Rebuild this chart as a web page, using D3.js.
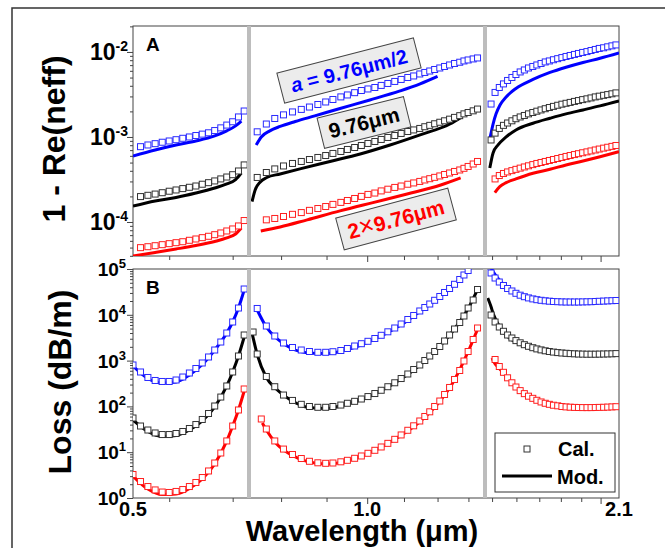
<!DOCTYPE html>
<html>
<head>
<meta charset="utf-8">
<script src="https://cdn.jsdelivr.net/npm/d3@7"></script>
<style>
  body { margin: 0; background: #fff; }
  svg { display: block; font-family: "Liberation Sans", Arial, sans-serif; font-weight: bold; }
</style>
</head>
<body>
<svg id="chart" width="665" height="548"></svg>
<script>
// wavelengths (um) of the calculated points, one grid per segment of the broken axis
const gridA = [0.50, 0.51, 0.52, 0.53, 0.54, 0.55, 0.56, 0.57, 0.58, 0.59, 0.60, 0.61, 0.62, 0.63, 0.64, 0.65, 0.66, 0.67];
const gridB = [0.744, 0.752, 0.760, 0.770, 0.787, 0.805, 0.824, 0.843, 0.861, 0.880, 0.898, 0.915, 0.934, 0.950, 0.968, 0.985, 1.002, 1.020, 1.037, 1.055, 1.074, 1.092, 1.111, 1.128, 1.146, 1.161, 1.176, 1.191, 1.207, 1.222, 1.238, 1.254, 1.271, 1.285, 1.299, 1.316, 1.331];
const gridC = [1.496, 1.512, 1.529, 1.546, 1.563, 1.581, 1.598, 1.616, 1.634, 1.652, 1.671, 1.689, 1.708, 1.727, 1.746, 1.765, 1.785, 1.805, 1.825, 1.845, 1.866, 1.886, 1.907, 1.929, 1.950, 1.972, 1.993, 2.016, 2.038, 2.061, 2.083];

// 1 - Re(neff), calculated (squares)
const neffBlueA = [null, 7.69e-4, 8.05e-4, 8.34e-4, 8.67e-4, 8.97e-4, 9.29e-4, 9.65e-4, 1.00e-3, 1.04e-3, 1.08e-3, 1.12e-3, 1.19e-3, 1.28e-3, 1.38e-3, 1.51e-3, 1.72e-3, 2.02e-3];
const neffBlackA = [null, 1.99e-4, 2.06e-4, 2.13e-4, 2.21e-4, 2.30e-4, 2.38e-4, 2.47e-4, 2.56e-4, 2.65e-4, 2.78e-4, 2.90e-4, 3.04e-4, 3.21e-4, 3.38e-4, 3.60e-4, 3.98e-4, 4.69e-4];
const neffRedA = [null, 4.99e-5, 5.12e-5, 5.26e-5, 5.41e-5, 5.56e-5, 5.71e-5, 5.86e-5, 6.09e-5, 6.31e-5, 6.54e-5, 6.79e-5, 7.09e-5, 7.43e-5, 7.84e-5, 8.28e-5, 8.98e-5, 1.04e-4];
const neffBlueB = [null, 1.15e-3, null, 1.42e-3, 1.65e-3, 1.82e-3, 1.97e-3, 2.11e-3, 2.25e-3, 2.41e-3, 2.58e-3, 2.76e-3, 2.96e-3, 3.12e-3, 3.32e-3, 3.52e-3, 3.67e-3, 3.82e-3, 4.04e-3, 4.26e-3, 4.50e-3, 4.75e-3, 5.01e-3, 5.22e-3, 5.51e-3, 5.74e-3, 5.97e-3, 6.22e-3, 6.48e-3, 6.75e-3, 7.03e-3, 7.32e-3, 7.57e-3, 7.84e-3, 8.05e-3, 8.28e-3, 8.50e-3];
const neffBlackB = [null, 3.34e-4, null, 3.82e-4, 4.21e-4, 4.56e-4, 4.88e-4, 5.15e-4, 5.43e-4, 5.74e-4, 6.05e-4, 6.40e-4, 6.75e-4, 7.13e-4, 7.52e-4, 7.94e-4, 8.39e-4, 8.85e-4, 9.35e-4, 9.87e-4, 1.04e-3, 1.10e-3, 1.16e-3, 1.21e-3, 1.26e-3, 1.32e-3, 1.37e-3, 1.43e-3, 1.49e-3, 1.55e-3, 1.62e-3, 1.70e-3, 1.78e-3, 1.87e-3, 1.94e-3, 2.03e-3, 2.13e-3];
const neffRedB = [null, null, null, 1.06e-4, 1.10e-4, 1.16e-4, 1.23e-4, 1.29e-4, 1.37e-4, 1.44e-4, 1.52e-4, 1.61e-4, 1.70e-4, 1.79e-4, 1.89e-4, 2.00e-4, 2.11e-4, 2.19e-4, 2.32e-4, 2.43e-4, 2.55e-4, 2.65e-4, 2.78e-4, 2.88e-4, 3.00e-4, 3.12e-4, 3.23e-4, 3.35e-4, 3.48e-4, 3.62e-4, 3.77e-4, 3.93e-4, 4.09e-4, 4.28e-4, 4.50e-4, 4.81e-4, 5.15e-4];
const neffBlueC = [2.44e-3, 3.34e-3, 3.82e-3, 4.21e-3, 4.62e-3, 5.01e-3, 5.43e-3, 5.82e-3, 6.14e-3, 6.48e-3, 6.75e-3, 7.03e-3, 7.32e-3, 7.63e-3, 7.84e-3, 8.10e-3, 8.34e-3, 8.59e-3, 8.85e-3, 9.09e-3, 9.35e-3, 9.60e-3, 9.87e-3, 1.01e-2, 1.04e-2, 1.07e-2, 1.10e-2, 1.12e-2, 1.15e-2, 1.18e-2, 1.21e-2];
const neffBlackC = [9.22e-4, 1.11e-3, 1.26e-3, 1.37e-3, 1.46e-3, 1.55e-3, 1.64e-3, 1.72e-3, 1.79e-3, 1.87e-3, 1.94e-3, 2.01e-3, 2.08e-3, 2.15e-3, 2.22e-3, 2.29e-3, 2.36e-3, 2.43e-3, 2.49e-3, 2.55e-3, 2.62e-3, 2.68e-3, 2.75e-3, 2.81e-3, 2.88e-3, 2.96e-3, 3.02e-3, 3.09e-3, 3.15e-3, 3.22e-3, 3.30e-3];
const neffRedC = [null, 3.21e-4, 3.52e-4, 3.72e-4, 3.88e-4, 4.02e-4, 4.16e-4, 4.30e-4, 4.44e-4, 4.58e-4, 4.73e-4, 4.88e-4, 5.01e-4, 5.15e-4, 5.29e-4, 5.43e-4, 5.58e-4, 5.74e-4, 5.90e-4, 6.05e-4, 6.21e-4, 6.36e-4, 6.52e-4, 6.68e-4, 6.85e-4, 7.03e-4, 7.21e-4, 7.39e-4, 7.57e-4, 7.75e-4, 7.94e-4];

// 1 - Re(neff), model (lines) as [wavelength, value]
const neffModBlueA = [[0.50, 5.97e-4], [0.53, 7.03e-4], [0.56, 8.05e-4], [0.59, 8.97e-4], [0.62, 1.03e-3], [0.64, 1.18e-3], [0.655, 1.35e-3], [0.665, 1.54e-3]];
const neffModBlackA = [[0.50, 1.54e-4], [0.53, 1.77e-4], [0.56, 1.94e-4], [0.59, 2.19e-4], [0.62, 2.51e-4], [0.64, 2.80e-4], [0.655, 3.16e-4], [0.665, 3.77e-4]];
const neffModRedA = [[0.50, 3.98e-5], [0.53, 4.38e-5], [0.56, 4.81e-5], [0.59, 5.29e-5], [0.62, 5.90e-5], [0.64, 6.49e-5], [0.655, 7.23e-5], [0.665, 8.50e-5]];
const neffModBlueB = [[0.75, 8.05e-4], [0.76, 1.0e-3], [0.777, 1.18e-3], [0.798, 1.33e-3], [0.83, 1.52e-3], [0.873, 1.77e-3], [0.932, 2.16e-3], [1.007, 2.72e-3], [1.089, 3.48e-3], [1.147, 4.21e-3], [1.20, 5.15e-3]];
const neffModBlackB = [[0.742, 1.74e-4], [0.748, 2.38e-4], [0.758, 2.96e-4], [0.771, 3.34e-4], [0.798, 3.67e-4], [0.840, 4.21e-4], [0.908, 5.15e-4], [0.982, 6.31e-4], [1.061, 8.05e-4], [1.147, 1.06e-3], [1.239, 1.42e-3], [1.278, 1.72e-3]];
const neffModRedB = [[0.759, 7.84e-5], [0.798, 8.73e-5], [0.856, 1.06e-4], [0.932, 1.35e-4], [1.015, 1.69e-4], [1.109, 2.13e-4], [1.210, 2.72e-4], [1.274, 3.30e-4]];
const neffModBlueC = [[1.492, 9.73e-4], [1.504, 1.42e-3], [1.516, 1.87e-3], [1.532, 2.38e-3], [1.557, 2.96e-3], [1.598, 3.72e-3], [1.672, 4.75e-3], [1.749, 5.74e-3], [1.825, 6.61e-3], [1.909, 7.52e-3], [1.997, 8.43e-3], [2.1, 9.73e-3]];
const neffModBlackC = [[1.491, 4.31e-4], [1.504, 6.49e-4], [1.524, 8.05e-4], [1.557, 1.0e-3], [1.598, 1.21e-3], [1.672, 1.45e-3], [1.749, 1.66e-3], [1.825, 1.87e-3], [1.909, 2.08e-3], [1.997, 2.32e-3], [2.1, 2.65e-3]];
const neffModRedC = [[1.511, 2.21e-4], [1.531, 2.60e-4], [1.557, 2.90e-4], [1.598, 3.21e-4], [1.672, 3.74e-4], [1.749, 4.17e-4], [1.825, 4.69e-4], [1.909, 5.22e-4], [1.997, 5.86e-4], [2.1, 6.71e-4]];

// Loss (dB/m), calculated (squares)
const lossBlueA = [802, 564, 428, 368, 350, 350, 377, 438, 536, 672, 887, 1199, 1703, 2545, 4005, 6965, 14070, 36570];
const lossBlackA = [55.8, 37.3, 30.5, 26.3, 24.3, 24.3, 25.6, 28.3, 32.9, 40.2, 51.8, 70.0, 102, 160, 279, 564, 1260, 3622];
const lossRedA = [3.26, 2.29, 1.78, 1.50, 1.35, 1.32, 1.39, 1.53, 1.78, 2.18, 2.80, 3.89, 5.81, 9.61, 17.6, 37.3, 83.5, 240];
const lossBlueB = [null, 13740, null, 5690, 3443, 2423, 1932, 1703, 1580, 1518, 1518, 1563, 1662, 1837, 2083, 2338, 2638, 3038, 3568, 4253, 5150, 6297, 7894, 9660, 12110, 14430, 17210, 20730, 25100, 30700, 37520, 46350, 59000, 73990, 92740, 122300, 165300];
const lossBlackB = [4210, 1393, null, 450, 269, 177, 135, 111, 99.5, 95.6, 95.6, 99.5, 107, 117, 129, 145, 164, 191, 225, 269, 328, 406, 510, 639, 802, 1005, 1260, 1580, 2032, 2680, 3622, 4898, 6787, 9412, 14070, 21040, 35670];
const lossRedB = [null, null, 53.1, 32.1, 17.6, 11.7, 8.91, 7.28, 6.33, 5.87, 5.72, 5.81, 6.17, 6.65, 7.36, 8.27, 9.46, 11.0, 13.0, 15.6, 19.1, 23.8, 30.1, 37.7, 48.0, 60.2, 76.2, 99.5, 131, 182, 259, 387, 608, 980, 1580, 2890, 5150];
const lossBlueC = [81840, 63590, 52000, 43620, 37520, 33110, 29470, 26790, 24840, 23380, 22240, 21370, 20730, 20220, 19830, 19520, 19320, 19130, 19030, 19030, 19030, 19030, 19130, 19230, 19320, 19520, 19720, 19920, 20120, 20330, 20530];
const lossBlackC = [9900, 6965, 5416, 4363, 3622, 3115, 2733, 2447, 2225, 2053, 1912, 1800, 1712, 1637, 1580, 1534, 1496, 1466, 1444, 1422, 1407, 1393, 1386, 1379, 1379, 1379, 1386, 1393, 1400, 1407, 1422];
const lossRedC = [null, 1057, 743, 555, 421, 328, 265, 221, 190, 167, 150, 136, 125, 117, 111, 106, 103, 99.5, 97.5, 96.1, 95.1, 94.6, 94.2, 94.2, 94.2, 94.6, 95.1, 95.6, 96.5, 97.5, 98.5];

// Loss (dB/m), model (lines)
const lossModBlueA = [[0.50, 762], [0.52, 406], [0.54, 324], [0.56, 341], [0.58, 485], [0.60, 822], [0.62, 1703], [0.64, 4005], [0.65, 6965], [0.66, 14070], [0.67, 34770]];
const lossModBlackA = [[0.50, 50.5], [0.52, 28.3], [0.54, 22.0], [0.56, 23.2], [0.58, 30.5], [0.60, 48.0], [0.62, 97.0], [0.64, 279], [0.65, 564], [0.66, 1260], [0.67, 3273]];
const lossModRedA = [[0.50, 3.02], [0.52, 1.57], [0.54, 1.19], [0.56, 1.22], [0.58, 1.61], [0.60, 2.60], [0.62, 5.53], [0.64, 17.6], [0.65, 37.3], [0.66, 83.5], [0.67, 217]];
const lossModBlueB = [[0.752, 12730], [0.77, 5416], [0.79, 3115], [0.82, 1883], [0.86, 1466], [0.90, 1429], [0.95, 1747], [1.00, 2485], [1.05, 3908], [1.10, 6620], [1.15, 12410], [1.20, 22700], [1.25, 43620], [1.30, 92740], [1.32, 128600]];
const lossModBlackB = [[0.742, 4005], [0.752, 1359], [0.77, 428], [0.79, 240], [0.82, 138], [0.86, 94.6], [0.90, 90.0], [0.95, 113], [1.00, 156], [1.05, 252], [1.10, 438], [1.15, 843], [1.20, 1837], [1.25, 4540], [1.30, 14070], [1.33, 34770]];
const lossModRedB = [[0.762, 43.4], [0.77, 30.5], [0.79, 15.5], [0.82, 8.91], [0.86, 6.11], [0.90, 5.53], [0.95, 6.42], [1.00, 9.14], [1.05, 14.7], [1.10, 25.6], [1.15, 49.2], [1.20, 113], [1.25, 341], [1.30, 1622], [1.33, 4660]];
const lossModBlueC = [[1.485, 142200], [1.505, 85910], [1.535, 53330], [1.565, 37520], [1.605, 28460], [1.655, 23030], [1.705, 20530], [1.756, 19230], [1.806, 18750], [1.856, 18570], [1.907, 18660], [1.957, 18930], [2.008, 19410], [2.059, 19920], [2.099, 20220]];
const lossModBlackC = [[1.483, 23280], [1.495, 15570], [1.505, 10400], [1.535, 5024], [1.565, 3273], [1.605, 2423], [1.655, 1883], [1.705, 1596], [1.756, 1444], [1.806, 1359], [1.856, 1325], [1.907, 1312], [1.957, 1318], [2.008, 1339], [2.059, 1366], [2.099, 1393]];
const lossModRedC = [[1.500, 1140], [1.505, 980], [1.535, 623], [1.565, 406], [1.605, 246], [1.655, 156], [1.705, 122], [1.756, 105], [1.806, 96.1], [1.856, 92.3], [1.907, 91.0], [1.957, 91.0], [2.008, 91.8], [2.059, 93.2], [2.099, 94.6]];

// axis ticks
const xTicksA = [0.55, 0.65];
const xTicksB = [0.8, 0.9, 1.0, 1.1, 1.2, 1.3];
const xTicksC = [1.5, 1.6, 1.7, 1.8, 1.9, 2.0];
const xLongTicks = [1.0, 2.0];
const xLabels = [["0.5", 0, 0.5], ["1.0", 1, 1.0], ["2.1", 2, 2.1]];
const neffExponents = [-4, -3, -2];
const lossExponents = [0, 1, 2, 3, 4, 5];

const seriesColors = ["#0000ff", "#000000", "#ff0000"];
const squareColors = ["#2a2aff", "#333333", "#ff2020"];

const svg = d3.select("#chart");

// layout of the broken x axis: three segments, two rows
const segRange = [[133, 247], [251, 483], [487, 619]];
const segDomain = [[0.5, 0.675], [0.74, 1.35], [1.48, 2.1]];
const rows = [{top: 26, bottom: 256}, {top: 269, bottom: 498}];

let xs = segDomain.map((d, i) => d3.scaleLog().domain(d).range(segRange[i]));
let yNeff = d3.scaleLog().domain([3.98e-5, 2.02e-2]).range([256, 26]);
let yLoss = d3.scaleLog().domain([1, 1e5]).range([498, 269]);
let ys = [yNeff, yLoss];

let panels = [
  {row: 0, seg: 0, grid: gridA, cal: [neffBlueA, neffBlackA, neffRedA], mod: [neffModBlueA, neffModBlackA, neffModRedA]},
  {row: 0, seg: 1, grid: gridB, cal: [neffBlueB, neffBlackB, neffRedB], mod: [neffModBlueB, neffModBlackB, neffModRedB]},
  {row: 0, seg: 2, grid: gridC, cal: [neffBlueC, neffBlackC, neffRedC], mod: [neffModBlueC, neffModBlackC, neffModRedC]},
  {row: 1, seg: 0, grid: gridA, cal: [lossBlueA, lossBlackA, lossRedA], mod: [lossModBlueA, lossModBlackA, lossModRedA]},
  {row: 1, seg: 1, grid: gridB, cal: [lossBlueB, lossBlackB, lossRedB], mod: [lossModBlueB, lossModBlackB, lossModRedB]},
  {row: 1, seg: 2, grid: gridC, cal: [lossBlueC, lossBlackC, lossRedC], mod: [lossModBlueC, lossModBlackC, lossModRedC]}
];

// outer figure border (left and top only, the figure is cropped)
svg.append("path").attr("d", "M12,548V8H665").attr("fill", "none").attr("stroke", "#333").attr("stroke-width", 1.5);

let defs = svg.append("defs");
panels.forEach(p => {
  let r = rows[p.row], s = segRange[p.seg];
  defs.append("clipPath").attr("id", "clip" + p.row + p.seg)
    .append("rect").attr("x", s[0]).attr("y", r.top).attr("width", s[1] - s[0]).attr("height", r.bottom - r.top);
});

// frames
rows.forEach(r => {
  svg.append("rect").attr("x", 133).attr("y", r.top).attr("width", 619 - 133).attr("height", r.bottom - r.top)
    .attr("fill", "none").attr("stroke", "#444").attr("stroke-width", 1);
});

// model lines then calculated squares
panels.forEach(p => {
  let x = xs[p.seg], y = ys[p.row];
  let g = svg.append("g").attr("clip-path", "url(#clip" + p.row + p.seg + ")");
  let line = d3.line().x(d => x(d[0])).y(d => y(d[1])).curve(d3.curveMonotoneX);
  p.mod.forEach((m, i) => {
    g.append("path").attr("d", line(m)).attr("fill", "none")
      .attr("stroke", seriesColors[i]).attr("stroke-width", 3);
  });
  p.cal.forEach((vals, i) => {
    let pts = p.grid.map((w, k) => [w, vals[k]]).filter(d => d[1] != null);
    g.selectAll(null).data(pts).enter().append("rect")
      .attr("x", d => x(d[0]) - 3).attr("y", d => y(d[1]) - 3)
      .attr("width", 6).attr("height", 6)
      .attr("fill", "#fff").attr("stroke", squareColors[i]).attr("stroke-width", 1);
  });
});

// grey bars marking the axis breaks
rows.forEach(r => {
  [[segRange[0][1], segRange[1][0]], [segRange[1][1], segRange[2][0]]].forEach(b => {
    svg.append("rect").attr("x", b[0]).attr("y", r.top).attr("width", b[1] - b[0]).attr("height", r.bottom - r.top)
      .attr("fill", "#bdbdbd");
  });
});

// x ticks on both rows
let xTickSets = [xTicksA, xTicksB, xTicksC];
rows.forEach(r => {
  xs.forEach((x, si) => {
    let short = xTickSets[si].filter(t => xLongTicks.indexOf(t) < 0);
    let long = xTickSets[si].filter(t => xLongTicks.indexOf(t) >= 0);
    [[short, 4], [long, 6]].forEach(([vals, len]) => {
      let ax = svg.append("g").attr("transform", "translate(0," + r.bottom + ")")
        .call(d3.axisBottom(x).tickValues(vals).tickSize(len).tickFormat(""));
      ax.select(".domain").remove();
      ax.selectAll("line").attr("stroke", "#444");
    });
  });
});

// y ticks (major + log minors)
function yTicks(scale, exps) {
  let majors = exps.map(e => Math.pow(10, e));
  let minors = [];
  let lo = d3.min(exps) - 1, hi = d3.max(exps);
  for (let e = lo; e <= hi; e++) {
    for (let k = 2; k <= 9; k++) {
      let v = k * Math.pow(10, e);
      if (v >= scale.domain()[0] && v <= scale.domain()[1]) minors.push(v);
    }
  }
  [[majors, 6], [minors, 3]].forEach(([vals, len]) => {
    let ax = svg.append("g").attr("transform", "translate(133,0)")
      .call(d3.axisLeft(scale).tickValues(vals).tickSize(len).tickFormat(""));
    ax.select(".domain").remove();
    ax.selectAll("line").attr("stroke", "#444");
  });
}
yTicks(yNeff, neffExponents);
yTicks(yLoss, lossExponents);

// power-of-ten tick labels
function powLabels(scale, exps, xEnd, size, supSize, rise, drop) {
  exps.forEach(e => {
    let t = svg.append("text").attr("x", xEnd).attr("y", scale(Math.pow(10, e)) + drop)
      .attr("text-anchor", "end").attr("font-size", size).attr("fill", "#000");
    t.append("tspan").text("10");
    t.append("tspan").attr("dy", -rise).attr("font-size", supSize).text(e);
  });
}
powLabels(yNeff, neffExponents, 128, 23, 14, 9, 8);
powLabels(yLoss, lossExponents, 126, 19, 13, 8, 7);

// x labels
xLabels.forEach(([txt, si, v]) => {
  svg.append("text").attr("x", xs[si](v)).attr("y", 516).attr("text-anchor", "middle")
    .attr("font-size", 20).text(txt);
});

svg.append("text").attr("x", 362).attr("y", 541).attr("text-anchor", "middle")
  .attr("font-size", 29).text("Wavelength (\u03bcm)");

svg.append("text").attr("transform", "translate(65,139) rotate(-90)").attr("text-anchor", "middle")
  .attr("font-size", 32).text("1 - Re(neff)");
svg.append("text").attr("transform", "translate(71,382) rotate(-90)").attr("text-anchor", "middle")
  .attr("font-size", 32).text("Loss (dB/m)");

svg.append("text").attr("x", 146).attr("y", 51).attr("font-size", 19).text("A");
svg.append("text").attr("x", 146).attr("y", 294).attr("font-size", 19).text("B");

// rotated annotation boxes
function noteBox(cx, cy, w, h, angle, color, size, parts) {
  let g = svg.append("g").attr("transform", "translate(" + cx + "," + cy + ") rotate(" + angle + ")");
  g.append("rect").attr("x", -w / 2).attr("y", -h / 2).attr("width", w).attr("height", h)
    .attr("fill", "#ececec").attr("stroke", "#444").attr("stroke-width", 1);
  let t = g.append("text").attr("text-anchor", "middle").attr("y", size * 0.36)
    .attr("font-size", size).attr("fill", color);
  parts.forEach(pt => {
    let s = t.append("tspan").text(pt.text);
    if (pt.italic) s.attr("font-style", "italic");
    if (pt.thin) s.attr("font-weight", "normal").attr("font-size", pt.thin);
  });
}
noteBox(349, 70.5, 141, 31, -14.5, "#0000ff", 20, [{text: "a", italic: true}, {text: " = 9.76\u03bcm/2"}]);
noteBox(364, 122.5, 89, 31, -14, "#000", 21, [{text: "9.76\u03bcm"}]);
noteBox(396, 219, 116, 33, -15, "#ff0000", 21, [{text: "2"}, {text: "\u00d7", thin: 26}, {text: "9.76\u03bcm"}]);

// legend
let lg = svg.append("g");
lg.append("rect").attr("x", 495).attr("y", 433).attr("width", 120).attr("height", 59)
  .attr("fill", "#fff").attr("stroke", "#333").attr("stroke-width", 1);
lg.append("rect").attr("x", 524).attr("y", 446).attr("width", 6).attr("height", 6)
  .attr("fill", "#fff").attr("stroke", "#333");
lg.append("text").attr("x", 558).attr("y", 456).attr("font-size", 20).text("Cal.");
lg.append("line").attr("x1", 502).attr("x2", 552).attr("y1", 476).attr("y2", 476)
  .attr("stroke", "#000").attr("stroke-width", 3);
lg.append("text").attr("x", 557).attr("y", 484).attr("font-size", 20).text("Mod.");
</script>
</body>
</html>
